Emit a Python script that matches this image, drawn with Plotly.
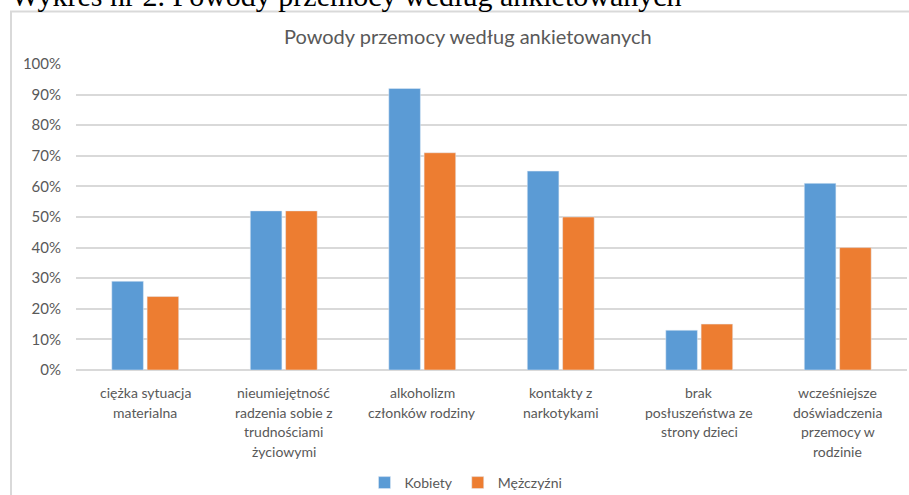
import plotly.graph_objects as go

categories = [
    "ciężka sytuacja<br>materialna",
    "nieumiejętność<br>radzenia sobie z<br>trudnościami<br>życiowymi",
    "alkoholizm<br>członków rodziny",
    "kontakty z<br>narkotykami",
    "brak<br>posłuszeństwa ze<br>strony dzieci",
    "wcześniejsze<br>doświadczenia<br>przemocy w<br>rodzinie",
]
kobiety = [0.29, 0.52, 0.92, 0.65, 0.13, 0.61]
mezczyzni = [0.24, 0.52, 0.71, 0.50, 0.15, 0.40]
series_names = ["Kobiety", "Mężczyźni"]
tick_vals = [0, 0.1, 0.2, 0.3, 0.4, 0.5, 0.6, 0.7, 0.8, 0.9, 1.0]
tick_text = ["0%", "10%", "20%", "30%", "40%", "50%", "60%", "70%", "80%", "90%", "100%"]
chart_title = "Powody przemocy według ankietowanych"
caption = "Wykres nr 2. Powody przemocy według ankietowanych"

FONT = "Lato"
GREY = "#595959"

fig = go.Figure()
fig.add_trace(go.Bar(x=categories, y=kobiety, name=series_names[0], marker_color="#5B9BD5"))
fig.add_trace(go.Bar(x=categories, y=mezczyzni, name=series_names[1], marker_color="#ED7D31"))

W, H = 909, 495
L, R, T, B = 76, 2, 63.5, 125
pw = W - L - R
ph = H - T - B

def px_x(x):
    return (x - L) / pw

def px_y(y):
    return (H - B - y) / ph

annotations = [
    dict(text=chart_title, xref="paper", yref="paper", x=px_x(468), y=px_y(35), xanchor="center",
         yanchor="middle", showarrow=False, font=dict(family=FONT, size=20, color=GREY)),
    dict(text=caption, xref="paper", yref="paper", x=px_x(9), y=px_y(13), xanchor="left",
         yanchor="bottom", showarrow=False, font=dict(family="Liberation Serif", size=30, color="black")),
]
# category labels, one annotation per line, placed on the category axis
LINE_GAP = 19.7
for cat in categories:
    for i, line in enumerate(cat.split("<br>")):
        annotations.append(dict(text=line, xref="x", yref="paper", x=cat, y=px_y(392.7 + i * LINE_GAP),
                                xanchor="center", yanchor="middle", showarrow=False,
                                font=dict(family=FONT, size=14, color=GREY)))

fig.update_layout(
    width=W, height=H,
    margin=dict(l=L, r=R, t=T, b=B, pad=0, autoexpand=False),
    paper_bgcolor="white", plot_bgcolor="white",
    barmode="group", bargap=0.49, bargroupgap=0.105,
    font=dict(family=FONT, size=14, color=GREY),
    showlegend=True,
    legend=dict(orientation="h", x=466 / W, xanchor="center", xref="container",
                y=1 - 483 / H, yanchor="middle", yref="container",
                font=dict(family=FONT, size=14, color=GREY), traceorder="normal"),
    xaxis=dict(showgrid=False, showline=False, ticks="", showticklabels=False, automargin=False),
    yaxis=dict(range=[0, 1], tickvals=tick_vals, ticktext=tick_text, showgrid=True, automargin=False,
               gridcolor="#D9D9D9", gridwidth=1.5, zeroline=True, zerolinecolor="#D9D9D9", zerolinewidth=1.5,
               showline=False, ticks="", tickfont=dict(family=FONT, size=15, color=GREY),
               ticklabelstandoff=14),
    shapes=[dict(type="rect", xref="paper", yref="paper", x0=px_x(11), x1=1.2, y0=-0.6, y1=px_y(11),
                 line=dict(color="#D9D9D9", width=2), fillcolor="rgba(0,0,0,0)", layer="below")],
    annotations=annotations,
)

fig.write_html("out.html", config={"displayModeBar": False},
               post_script="document.body.style.margin='0';document.body.style.overflow='hidden';")
